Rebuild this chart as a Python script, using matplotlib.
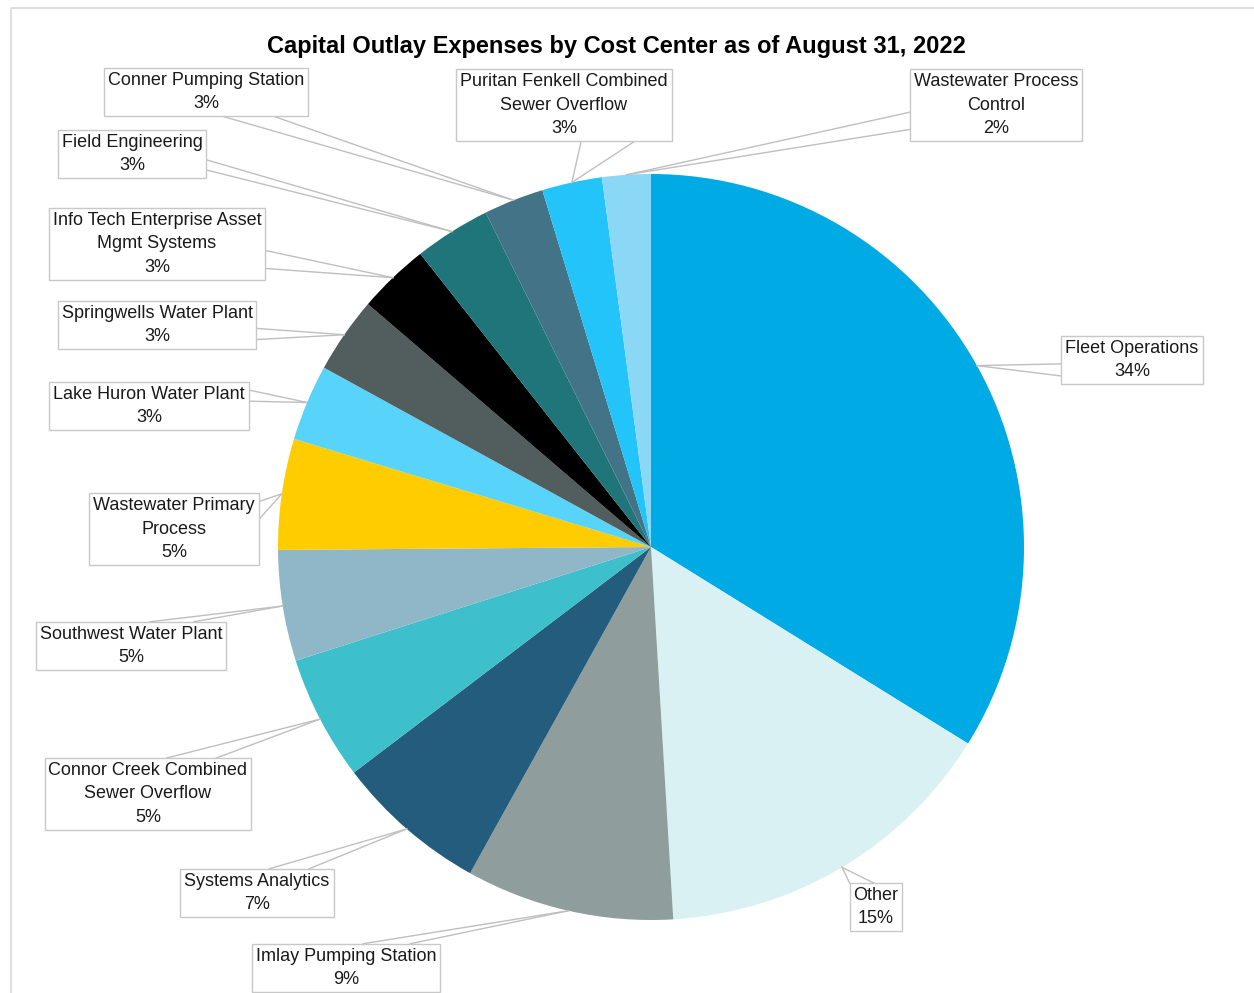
import matplotlib
matplotlib.use("Agg")
import matplotlib.pyplot as plt
import numpy as np

plt.rcParams['font.family'] = ['Liberation Sans', 'DejaVu Sans']

# ---------------- data ----------------
cost_centers = [
    "Fleet Operations", "Other", "Imlay Pumping Station", "Systems Analytics",
    "Connor Creek Combined\nSewer Overflow", "Southwest Water Plant",
    "Wastewater Primary\nProcess", "Lake Huron Water Plant",
    "Springwells Water Plant", "Info Tech Enterprise Asset\nMgmt Systems",
    "Field Engineering", "Conner Pumping Station",
    "Puritan Fenkell Combined\nSewer Overflow", "Wastewater Process\nControl",
]
shares = [33.8, 15.2, 9.0, 6.6, 5.4, 4.8, 4.8, 3.3, 3.3, 3.1, 3.3, 2.6, 2.6, 2.1]
colors = ["#00AAE4", "#DAF1F3", "#8F9D9C", "#245C7E", "#3DBFCC", "#8FB7C7",
          "#FFCC00", "#58D3FA", "#525E5E", "#000000", "#20757B", "#427387",
          "#22C4F9", "#8AD8F6"]

# ---------------- layout (pixels, y from top) ----------------
W, H = 1254, 993
center_px = (651, 547)
radius = 373
# label box centres and which box side the callout lines attach to
label_pos = [(1132, 360), (876, 907), (346, 968), (257, 893), (148, 794),
             (131, 646), (174, 529), (149, 406), (157, 325), (157, 244),
             (132, 154), (206, 92), (564, 105), (996, 105)]
label_side = [("left", 0.58, 0.83), ("top", 0.0, 0.45), ("top", 0.59, 0.84),
              ("top", 0.58, 0.84), ("top", 0.59, 0.83), ("top", 0.6, 0.83),
              ("right", 0.12, 0.37), ("right", 0.17, 0.4), ("right", 0.57, 0.8),
              ("right", 0.59, 0.84), ("right", 0.62, 0.83), ("bottom", 0.58, 0.83),
              ("bottom", 0.58, 0.83), ("left", 0.6, 0.84)]

fig = plt.figure(figsize=(12.54, 9.93), dpi=100)
ax = fig.add_axes([0, 0, 1, 1])

cx, cy = center_px[0], H - center_px[1]
wedges, _ = ax.pie(shares, colors=colors, startangle=90, counterclock=False,
                   center=(cx, cy), radius=radius,
                   wedgeprops=dict(linewidth=0))
ax.set_xlim(0, W)
ax.set_ylim(0, H)
ax.set_aspect('equal')
ax.axis('off')

# faint chart-area frame
ax.plot([11, 11, W], [0, H - 8, H - 8], color="#d9d9d9", lw=1.2, zorder=0)

ax.text(616, H - 46, "Capital Outlay Expenses by Cost Center as of August 31, 2022",
        ha='center', va='center', fontsize=17, fontweight='bold')

texts = []
for name, val, (px, py) in zip(cost_centers, shares, label_pos):
    t = ax.text(px, H - py, f"{name}\n{round(val)}%", ha='center', va='center',
                fontsize=13, color="#1a1a1a", zorder=5, linespacing=1.5,
                bbox=dict(boxstyle='square,pad=0.22', fc='white', ec='#c8c8c8', lw=1))
    texts.append(t)

fig.canvas.draw()
renderer = fig.canvas.get_renderer()
inv = ax.transData.inverted()

# callout lines: two thin lines from the slice edge to the label box
for w, t, (side, f1, f2) in zip(wedges, texts, label_side):
    mid = np.deg2rad((w.theta1 + w.theta2) / 2)
    edge = (cx + radius * np.cos(mid), cy + radius * np.sin(mid))
    bb = t.get_bbox_patch().get_window_extent(renderer)
    (x0, y0), (x1, y1) = inv.transform([(bb.x0, bb.y0), (bb.x1, bb.y1)])
    for f in (f1, f2):
        if side == "left":
            p = (x0, y1 - f * (y1 - y0))
        elif side == "right":
            p = (x1, y1 - f * (y1 - y0))
        elif side == "top":
            p = (x0 + f * (x1 - x0), y1)
        else:
            p = (x0 + f * (x1 - x0), y0)
        ax.plot([edge[0], p[0]], [edge[1], p[1]], color="#bfbfbf", lw=1, zorder=4)

fig.savefig("out.png", dpi=100)
